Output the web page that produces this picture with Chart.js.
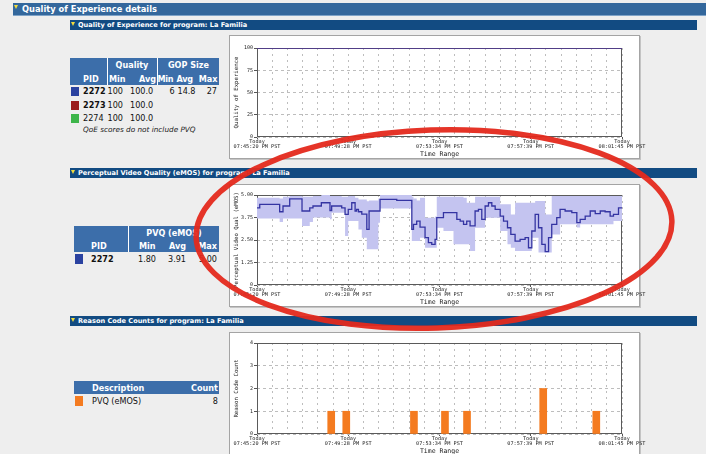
<!DOCTYPE html>
<html>
<head>
<meta charset="utf-8">
<script src="https://cdn.jsdelivr.net/npm/chart.js@4.4.1/dist/chart.umd.min.js"></script>
<style>
  html, body { margin:0; padding:0; }
  body { width:706px; height:454px; overflow:hidden; position:relative; background:#eeeeee; font-family:"DejaVu Sans", Verdana, sans-serif; color:#111; }
  .a { position:absolute; white-space:nowrap; }
  .bar-main { left:13px; top:3px; width:693px; height:12px; background:#33679c; border-bottom:1px solid #7ea3c8; }
  .bar-sub { left:70px; width:627px; height:10px; background:#124b82; }
  .tri { width:0; height:0; border-left:2.5px solid transparent; border-right:2.5px solid transparent; border-top:4px solid #f2dc3c; }
  .mt { color:#fff; font-weight:bold; font-size:8.3px; line-height:12px; }
  .st { color:#fff; font-weight:bold; font-size:6.6px; line-height:10px; }
  .box { left:229px; width:409px; background:#fff; border:1px solid #a4a4a4; box-shadow:1px 1px 0 #c4c4c4; }
  .th { background:#3c6eaa; }
  .sep { background:#fff; width:1px; }
  .c { font-size:8.1px; line-height:10px; }
  .hw { color:#fff; font-weight:bold; }
  .b { font-weight:bold; }
  .r { text-align:right; width:50px; }
  .ctr { text-align:center; }
  .note { font-style:italic; font-size:7.3px; line-height:10px; color:#222; }
  canvas { position:absolute; }
</style>
</head>
<body>

<!-- page headers -->
<div class="a bar-main"></div>
<div class="a tri" style="left:13.5px;top:5px"></div>
<div class="a mt" style="left:22px;top:3px">Quality of Experience details</div>

<div class="a bar-sub" style="top:20px"></div>
<div class="a tri" style="left:71px;top:21.5px"></div>
<div class="a st" style="left:78px;top:20px">Quality of Experience for program: La Familia</div>

<div class="a bar-sub" style="top:168px"></div>
<div class="a tri" style="left:71px;top:169.5px"></div>
<div class="a st" style="left:78px;top:168px">Perceptual Video Quality (eMOS) for program: La Familia</div>

<div class="a bar-sub" style="top:316px"></div>
<div class="a tri" style="left:71px;top:317.5px"></div>
<div class="a st" style="left:78px;top:316px">Reason Code Counts for program: La Familia</div>

<!-- table 1 -->
<div class="a th" style="left:70px;top:58px;width:149px;height:27px"></div>
<div class="a sep" style="left:107px;top:58px;height:27px"></div>
<div class="a sep" style="left:157px;top:58px;height:27px"></div>
<div class="a c hw ctr" style="left:107px;top:60px;width:50px">Quality</div>
<div class="a c hw ctr" style="left:158px;top:60px;width:61px">GOP Size</div>
<div class="a c hw" style="left:83px;top:74px">PID</div>
<div class="a c hw" style="left:109px;top:74px">Min</div>
<div class="a c hw r" style="left:106px;top:74px">Avg</div>
<div class="a c hw" style="left:157.5px;top:74px;letter-spacing:-0.3px">Min</div>
<div class="a c hw" style="left:176.5px;top:74px;letter-spacing:-0.3px">Avg</div>
<div class="a c hw r" style="left:167.5px;top:74px">Max</div>

<div class="a" style="left:71px;top:87px;width:8px;height:9px;background:#2a42a0"></div>
<div class="a c b" style="left:83px;top:86px">2272</div>
<div class="a c" style="left:107.5px;top:86px">100</div>
<div class="a c" style="left:130px;top:86px">100.0</div>
<div class="a c" style="left:169.5px;top:86px">6</div>
<div class="a c" style="left:177.5px;top:86px">14.8</div>
<div class="a c r" style="left:167px;top:86px">27</div>

<div class="a" style="left:71px;top:100.5px;width:8px;height:9px;background:#9b1b1b"></div>
<div class="a c b" style="left:83px;top:99.5px">2273</div>
<div class="a c" style="left:107.5px;top:99.5px">100</div>
<div class="a c" style="left:130px;top:99.5px">100.0</div>

<div class="a" style="left:71px;top:114px;width:8px;height:9px;background:#3db54a"></div>
<div class="a c" style="left:83px;top:113px">2274</div>
<div class="a c" style="left:107.5px;top:113px">100</div>
<div class="a c" style="left:130px;top:113px">100.0</div>

<div class="a note" style="left:83px;top:124.5px">QoE scores do not include PVQ</div>

<!-- table 2 -->
<div class="a th" style="left:74px;top:226px;width:145px;height:26px"></div>
<div class="a sep" style="left:128px;top:226px;height:26px"></div>
<div class="a c hw ctr" style="left:129px;top:228px;width:90px">PVQ (eMOS)</div>
<div class="a c hw" style="left:91px;top:241px">PID</div>
<div class="a c hw" style="left:139px;top:241px">Min</div>
<div class="a c hw" style="left:169px;top:241px">Avg</div>
<div class="a c hw r" style="left:167px;top:241px">Max</div>
<div class="a" style="left:75px;top:254px;width:8px;height:10px;background:#2a42a0"></div>
<div class="a c b" style="left:91px;top:254px">2272</div>
<div class="a c" style="left:138px;top:254px">1.80</div>
<div class="a c" style="left:168px;top:254px">3.91</div>
<div class="a c r" style="left:167px;top:254px">5.00</div>

<!-- table 3 -->
<div class="a th" style="left:74px;top:381px;width:145px;height:13px"></div>
<div class="a c hw" style="left:92px;top:382.5px">Description</div>
<div class="a c hw r" style="left:168px;top:382.5px">Count</div>
<div class="a" style="left:75px;top:396px;width:8px;height:10px;background:#f47b20"></div>
<div class="a c" style="left:92px;top:396px">PVQ (eMOS)</div>
<div class="a c r" style="left:168px;top:396px">8</div>

<!-- chart boxes -->
<div class="a box" style="top:35px;height:122px"></div>
<div class="a box" style="top:184px;height:121px"></div>
<div class="a box" style="top:332px;height:124px"></div>

<canvas id="c1" width="425" height="122" style="left:230px;top:36px"></canvas>
<canvas id="c2" width="425" height="121" style="left:230px;top:185px"></canvas>
<canvas id="c3" width="425" height="122" style="left:230px;top:333px"></canvas>

<svg class="a" style="left:0;top:0;pointer-events:none" width="706" height="454">
  <ellipse cx="434" cy="229" rx="238" ry="99" transform="rotate(-2 434 229)" fill="none" stroke="#e4291c" stroke-width="5.5" stroke-opacity="0.95"/>
</svg>

<script>
// ---------------- data ----------------
const dayLabel = "Today";
const timeLabels = ["07:45:20 PM PST", "07:49:28 PM PST", "07:53:34 PM PST", "07:57:39 PM PST", "08:01:45 PM PST"];
const majorSteps = [0, 6, 12, 18, 24];
const gridSteps = [0,1,2,3,4,5,6,7,8,9,10,11,12,13,14,15,16,17,18,19,20,21,22,23,24];

const qoeTicks = [0, 25, 50, 75, 100];
const qoeTime = [0, 24];
const qoe2272 = [100, 100];
const qoe2273 = [100, 100];
const qoe2274 = [100, 100];

const pvqTicks = [0, 1.25, 2.5, 3.75, 5];
const pvqTime = [0, 0.18, 1.49, 1.71, 2.15, 2.96, 3.47, 3.68, 4.23, 4.80, 4.91, 5.57, 5.79, 6.00, 6.23, 6.45, 6.55, 6.67, 6.89, 7.22, 7.37, 7.98, 8.09, 9.19, 10.18, 10.29, 10.50, 10.72, 11.05, 11.27, 11.49, 11.71, 11.82, 12.26, 12.92, 13.14, 13.36, 13.58, 13.79, 14.01, 14.34, 14.56, 14.78, 15.00, 15.22, 15.44, 15.66, 15.99, 16.21, 16.47, 16.69, 16.97, 17.30, 17.63, 17.85, 18.07, 18.29, 18.51, 18.73, 18.95, 19.17, 19.38, 19.71, 19.93, 20.26, 20.70, 21.03, 21.25, 21.58, 21.91, 22.24, 22.57, 22.89, 23.22, 23.44, 23.77, 24.00];
const pvqAvg = [4.29,4.48,4.07,4.39,4.79, 4.11,4.29,4.39,4.57,4.14, 4.39,4.29,3.92,4.20,4.57, 4.11,4.20,4.07,3.94,3.09, 4.11,4.11,4.76,4.70,3.09, 3.37,3.55,3.22,2.63,2.35, 2.26,2.54,3.74,4.02,4.02, 3.65,3.55,3.37,3.55,3.28, 4.11,4.20,3.65,4.39,4.57, 4.39,4.20,3.83,3.55,3.18, 2.81,2.44,2.54,2.63,2.07, 3.00,3.92,3.18,2.26,1.85, 2.63,3.37,3.74,4.20,4.11, 4.02,3.46,3.65,3.83,4.11, 3.96,4.11,4.07,3.83,3.92, 4.29,4.29];
const pvqMin = [3.70,3.70,3.50,3.70,3.70, 3.28,3.50,3.75,3.75,3.65, 4.02,4.02,2.72,3.55,3.55, 3.55,3.55,3.09,2.63,1.98, 1.98,3.46,4.25,4.25,2.44, 2.44,2.44,2.63,2.07,2.07, 2.07,2.07,3.18,3.00,2.26, 2.26,2.26,2.26,2.26,1.89, 3.18,3.18,3.18,3.74,3.74, 3.74,3.74,3.00,3.00,2.26, 2.07,1.89,1.89,1.89,1.89, 2.63,2.63,1.80,1.80,1.80, 1.80,2.81,2.81,3.37,3.37, 3.37,3.20,3.37,3.37,3.37, 3.37,3.37,3.37,3.37,3.55, 3.55,3.55];
const pvqMax = [4.85,4.85,4.80,4.90,4.95, 4.90,4.90,4.95,5.00,4.95, 4.95,4.90,4.90,4.95,4.95, 4.85,4.85,4.75,4.75,4.65, 4.70,4.80,5.00,5.00,4.90, 4.80,4.70,4.85,3.74,3.74, 3.74,3.80,4.90,4.90,4.90, 4.90,4.90,4.85,4.57,4.57, 4.90,4.90,4.90,4.90,4.90, 4.90,4.90,4.48,4.48,4.48, 3.92,4.57,4.57,4.57,4.57, 4.57,4.67,4.67,4.67,3.92, 3.92,4.94,4.94,4.94,4.94, 4.94,4.94,4.94,4.94,4.94, 4.94,4.94,4.94,4.94,4.94, 4.94,4.94];

const reasonTicks = [0, 1, 2, 3, 4];
const reasonTime = [4.88, 5.87, 10.32, 12.36, 13.81, 18.82, 22.31];
const reasonCount = [1, 1, 1, 1, 1, 2, 1];

// ---------------- helpers ----------------
const mono = "'DejaVu Sans Mono', monospace";
const pts = (xs, ys) => xs.map((x, i) => ({ x: x, y: ys[i] }));

function xScale() {
  return {
    type: 'linear', min: 0, max: 24, offset: false,
    afterBuildTicks: s => { s.ticks = gridSteps.map(v => ({ value: v })); },
    afterFit: s => { s.height = 21; s.paddingLeft = 0; s.paddingRight = 0; },
    ticks: {
      autoSkip: false, maxRotation: 0, minRotation: 0, padding: 0, color: '#222',
      font: { family: mono, size: 5.2, lineHeight: 0.96 },
      callback: v => { const i = majorSteps.indexOf(v); return i < 0 ? '' : [dayLabel, timeLabels[i]]; }
    },
    grid: {
      offset: false, color: '#bdbdbd', lineWidth: 1, tickLength: 2,
      tickColor: c => (c.tick && majorSteps.includes(c.tick.value)) ? '#555' : 'rgba(0,0,0,0)'
    },
    border: { display: false, dash: [2, 4] },
    title: { display: true, text: 'Time Range', color: '#222', font: { family: mono, size: 6.5, lineHeight: 1.2 }, padding: 0 }
  };
}
function yScale(ticks, title, fmt) {
  return {
    type: 'linear', min: ticks[0], max: ticks[ticks.length - 1],
    afterBuildTicks: s => { s.ticks = ticks.map(v => ({ value: v })); },
    afterFit: s => { s.width = 27; s.paddingTop = 0; s.paddingBottom = 0; },
    ticks: { padding: 1, color: '#222', font: { family: mono, size: 5 }, callback: fmt },
    grid: { color: '#bdbdbd', tickLength: 3, tickColor: '#555' },
    border: { display: false, dash: [3, 3] },
    title: { display: true, text: title, color: '#222', font: { family: mono, size: 5.7, lineHeight: 1.2 }, padding: { top: 3, bottom: 0 } }
  };
}
const framePlugin = {
  id: 'frame',
  beforeDatasetsDraw(chart) {
    const { ctx, chartArea: a } = chart;
    ctx.save();
    ctx.strokeStyle = '#5a5a5a';
    ctx.lineWidth = 1;
    ctx.strokeRect(Math.round(a.left) + 0.5, Math.round(a.top) + 0.5, Math.round(a.width) - 1, Math.round(a.height) - 1);
    ctx.restore();
  }
};
function baseOptions(top, yOpts) {
  return {
    responsive: false, animation: false, events: [],
    layout: { padding: { top: top, right: 33, left: 0, bottom: 0 } },
    plugins: { legend: { display: false }, tooltip: { enabled: false } },
    scales: { x: xScale(), y: yOpts }
  };
}

// ---------------- chart 1: QoE ----------------
new Chart(document.getElementById('c1'), {
  type: 'line',
  data: { datasets: [
    { label: '2272', data: pts(qoeTime, qoe2272), borderColor: '#4040a8', borderWidth: 1.5, pointRadius: 0 },
    { label: '2273', data: pts(qoeTime, qoe2273), borderColor: '#9b1b1b', borderWidth: 1.5, pointRadius: 0 },
    { label: '2274', data: pts(qoeTime, qoe2274), borderColor: '#3db54a', borderWidth: 1.5, pointRadius: 0 }
  ] },
  options: baseOptions(12, yScale(qoeTicks, 'Quality of Experience', v => String(v))),
  plugins: [framePlugin]
});

// ---------------- chart 2: PVQ ----------------
new Chart(document.getElementById('c2'), {
  type: 'line',
  data: { datasets: [
    { label: 'avg', data: pts(pvqTime, pvqAvg), stepped: true, borderColor: '#3434a2', borderWidth: 1.3, pointRadius: 0, fill: false },
    { label: 'max', data: pts(pvqTime, pvqMax), stepped: true, borderColor: 'rgba(0,0,0,0)', borderWidth: 0, pointRadius: 0, fill: '+1', backgroundColor: '#c4c4f0' },
    { label: 'min', data: pts(pvqTime, pvqMin), stepped: true, borderColor: 'rgba(0,0,0,0)', borderWidth: 0, pointRadius: 0, fill: false }
  ] },
  options: baseOptions(10, yScale(pvqTicks, 'Perceptual Video Qual (eMOS)', v => v === 0 ? '0' : v.toFixed(2))),
  plugins: [framePlugin]
});

// ---------------- chart 3: reason codes ----------------
new Chart(document.getElementById('c3'), {
  type: 'bar',
  data: { datasets: [
    { label: 'PVQ (eMOS)', data: pts(reasonTime, reasonCount), backgroundColor: '#f47b20', borderWidth: 0, barThickness: 7 }
  ] },
  options: baseOptions(10, yScale(reasonTicks, 'Reason Code Count', v => String(v))),
  plugins: [framePlugin]
});
</script>
</body>
</html>
